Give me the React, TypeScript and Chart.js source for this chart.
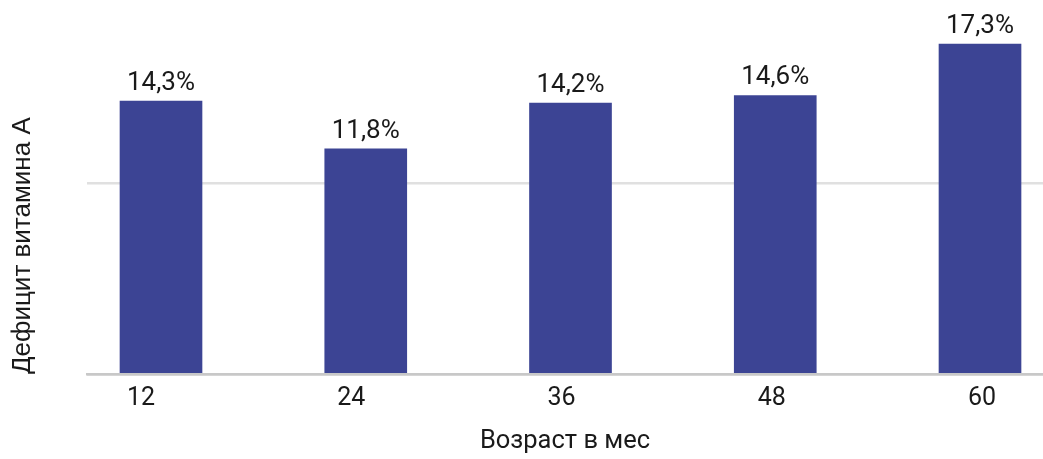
import React, { useEffect, useRef } from "react";
import { Chart, registerables } from "chart.js";

Chart.register(...registerables);

const ages = [12, 24, 36, 48, 60];
const deficitValues = [14.3, 11.8, 14.2, 14.6, 17.3];
const tickLabels = ["12", "24", "36", "48", "60"];
const xTitle = "Возраст в мес";
const yTitle = "Дефицит витамина А";

const BAR_COLOR = "#3c4494";
const TEXT_COLOR = "#1a1a1a";
const NUM_FONT = "Roboto";

const valueLabels = {
  id: "valueLabels",
  afterDatasetsDraw(chart: any) {
    const ctx = chart.ctx;
    const meta = chart.getDatasetMeta(0);
    ctx.save();
    ctx.font = `26px ${NUM_FONT}`;
    ctx.fillStyle = TEXT_COLOR;
    ctx.textAlign = "center";
    ctx.textBaseline = "alphabetic";
    meta.data.forEach((bar: any, i: number) => {
      const text = deficitValues[i].toFixed(1).replace(".", ",") + "%";
      ctx.fillText(text, bar.x, bar.y - 11);
    });
    ctx.restore();
  },
};

export default function App() {
  const ref = useRef<HTMLCanvasElement>(null);

  useEffect(() => {
    if (!ref.current) return;
    const chart = new Chart(ref.current, {
      type: "bar",
      data: {
        datasets: [
          {
            data: ages.map((a, i) => ({ x: a, y: deficitValues[i] })),
            backgroundColor: BAR_COLOR,
            borderWidth: 0,
            barThickness: 82,
          },
        ],
      },
      options: {
        responsive: false,
        animation: false,
        layout: { padding: { top: 2, right: 0, left: 0, bottom: 0 } },
        plugins: {
          legend: { display: false },
          tooltip: { enabled: false },
        },
        scales: {
          x: {
            type: "linear",
            display: false,
            offset: false,
            grid: { offset: false },
            min: 7.663,
            max: 63.692,
          },
          xl: {
            type: "linear",
            position: "bottom",
            offset: false,
            min: 8.918,
            max: 63.482,
            afterBuildTicks: (scale: any) => {
              scale.ticks = ages.map((v) => ({ value: v }));
            },
            afterFit: (scale: any) => {
              scale.height = 85;
              scale.paddingLeft = 0;
              scale.paddingRight = 0;
            },
            grid: { display: false, drawTicks: false, offset: false },
            border: { display: true, color: "#c8c8c8", width: 2.6 },
            ticks: {
              color: TEXT_COLOR,
              font: { family: NUM_FONT, size: 25 },
              padding: 10,
              maxRotation: 0,
              autoSkip: false,
              callback: (_v: any, i: number) => tickLabels[i],
            },
            title: {
              display: true,
              text: xTitle,
              color: TEXT_COLOR,
              font: { family: NUM_FONT, size: 25.5 },
              padding: { top: 0, bottom: 2 },
            },
          },
          y: {
            type: "linear",
            min: 0,
            max: 19.5,
            afterBuildTicks: (scale: any) => {
              scale.ticks = [{ value: 0 }, { value: 10 }];
            },
            afterFit: (scale: any) => {
              scale.width = 87;
            },
            ticks: { display: false },
            grid: {
              drawTicks: false,
              color: (c: any) => (c.tick && c.tick.value === 0 ? "#c8c8c8" : "#e0e0e0"),
              lineWidth: 2.6,
            },
            border: { display: false },
            title: {
              display: true,
              text: yTitle,
              align: "start",
              color: TEXT_COLOR,
              font: { family: "Liberation Sans", size: 26 },
              padding: { top: 7, bottom: 0 },
            },
          },
        },
      },
      plugins: [valueLabels],
    } as any);
    return () => chart.destroy();
  }, []);

  return (
    <div style={{ position: "absolute", left: 0, top: 0, width: 1043, height: 459, background: "#fff" }}>
      <canvas ref={ref} width={1043} height={459} />
    </div>
  );
}
